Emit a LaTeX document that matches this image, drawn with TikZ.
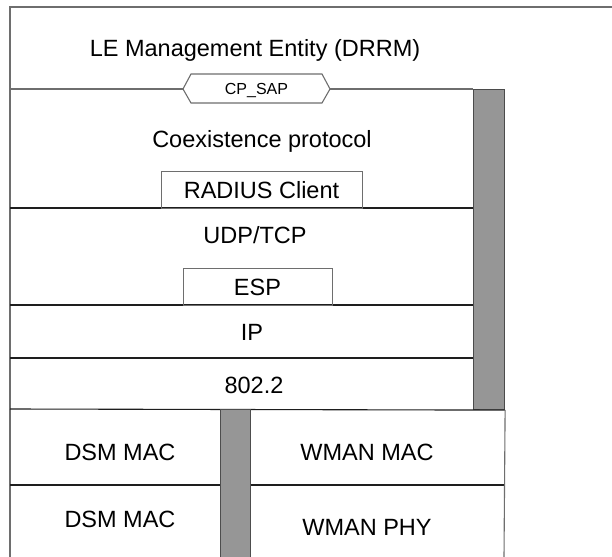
\documentclass[tikz,border=0pt]{standalone}
\usepackage{fontspec}
\setmainfont{Liberation Sans}
\definecolor{lgray}{RGB}{110,110,110}
\definecolor{dline}{RGB}{30,30,30}
\definecolor{barfill}{RGB}{150,150,150}
\tikzset{
  lbl/.style={anchor=base, inner sep=0pt, font=\fontsize{23.5bp}{28bp}\selectfont},
  sml/.style={anchor=base, inner sep=0pt, font=\fontsize{16bp}{19bp}\selectfont},
  gline/.style={draw=lgray, line width=1.1bp},
  bline/.style={draw=dline, line width=1.1bp},
  bar/.style={fill=barfill, draw=dline!80!white, line width=1.1bp},
}
\begin{document}
\begin{tikzpicture}[x=1bp,y=-1bp]
\path[use as bounding box, fill=white] (0,0) rectangle (612,557);
% outer frame
\coordinate (tl) at (10,7);
\coordinate (tr) at (612,7);
\coordinate (bl) at (10,557);
\draw[gline] (tr) -- (tl) -- (bl);
% texts
\node[lbl] (le) at (255,56.5) {LE Management Entity (DRRM)};
% CP_SAP hexagon
\node[sml] (sap) at (256.5,94.5) {CP\_SAP};
\coordinate (hl) at (183,89);
\coordinate (hr) at (330,89);
\draw[gline] (hl) -- (191,74) -- (322,74) -- (hr) -- (322,103) -- (191,103) -- cycle;
\coordinate (l89) at (10,89);
\coordinate (barL) at (473,89);
\draw[gline] (l89) -- (hl);
\draw[gline] (hr) -- (barL);
% right gray bar
\node[bar, inner sep=0pt, minimum width=31bp, minimum height=320bp, anchor=north west] (rbar) at (473,89) {};
% layer dividers
\foreach \yy/\nm in {208/a,305/b,358/c}{
  \coordinate (d\nm L) at (10,\yy);
  \coordinate (d\nm R) at (473,\yy);
  \draw[bline] (d\nm L) -- (d\nm R);
}
\coordinate (e1) at (10,409);
\draw[bline] (e1) -- (rbar.south east);
\node[lbl] (coex) at (262,147.5) {Coexistence protocol};
\node[draw=lgray, line width=1.1bp, inner sep=0pt, minimum width=201bp, minimum height=37bp, anchor=north west] (radbox) at (161,171) {};
\node[lbl] (radius) at (261.5,198.5) {RADIUS Client};
\node[lbl] (udp) at (255,243.5) {UDP/TCP};
\node[draw=lgray, line width=1.1bp, inner sep=0pt, minimum width=149bp, minimum height=37bp, anchor=north west] (espbox) at (183,268) {};
\node[lbl] (esp) at (257.5,295.5) {ESP};
\node[lbl] (ip) at (252,340.5) {IP};
\node[lbl] (llc) at (254,393.5) {802.2};
% lower part
\node[bar, draw=lgray!70!black, inner sep=0pt, minimum width=30bp, minimum height=150bp, anchor=north west] (lbar) at (220,409) {};
\coordinate (m1) at (10,485);
\coordinate (m4) at (504,485);
\coordinate (rb) at (504,557);
\draw[bline] (m1) -- (lbar.west |- m1);
\draw[bline] (lbar.east |- m4) -- (m4);
\draw[gline] (rbar.south east) -- (rb);
\node[lbl] (dsm1) at (120,460.5) {DSM MAC};
\node[lbl] (dsm2) at (120,527.5) {DSM MAC};
\node[lbl] (wmac) at (367,460.5) {WMAN MAC};
\node[lbl] (wphy) at (367,535.5) {WMAN PHY};
\end{tikzpicture}
\end{document}
